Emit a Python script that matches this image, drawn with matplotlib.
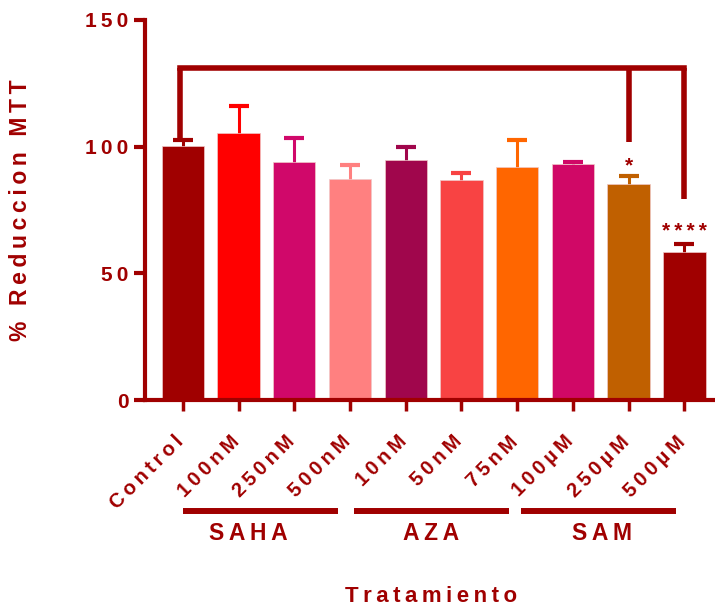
import matplotlib
matplotlib.use('Agg')
import matplotlib.pyplot as plt
import matplotlib.transforms as mtransforms
import numpy as np

# data
categories = ['Control', '100nM', '250nM', '500nM', '10nM', '50nM', '75nM',
              '100µM', '250µM', '500µM']
means = [100.4, 105.3, 94.1, 87.1, 94.7, 86.8, 92.0, 93.0, 85.3, 58.4]
errors = [2.2, 10.7, 9.2, 5.7, 5.3, 2.9, 10.8, 1.0, 3.1, 3.1]
colors = ['#A00000', '#FF0000', '#D0086A', '#FF8080', '#A0064C', '#F84343',
          '#FF6600', '#D00866', '#C06000', '#A00000']
groups = ['SAHA', 'AZA', 'SAM']
group_spans = [(0, 2.78), (3.07, 5.85), (6.07, 8.85)]
group_label_x = [1.17, 4.45, 7.52]
bracket_y = 131
bracket_ends = [(-0.05, 102.6), (8, 102.0), (9, 79.3)]
stars = [(8, 92.5, '*'), (9, 66.5, '****')]

RED = '#A00000'
plt.rcParams['font.family'] = ['Liberation Sans', 'DejaVu Sans']
plt.rcParams['font.weight'] = 'bold'


def spaced(s):
    # the reference uses wide letter spacing
    return '\u2009'.join(s)


fig = plt.figure(figsize=(7.15, 6.07), dpi=100)
ax = fig.add_axes([145 / 715, 1 - 400 / 607, 1 - 145 / 715, 380 / 607])

x = np.arange(len(categories))
for i in x:
    ax.bar(i, means[i], width=0.76, color=colors[i], edgecolor='#F0C8C8',
           linewidth=0.5, zorder=2)
    ax.errorbar(i, means[i], yerr=errors[i], fmt='none',
                ecolor=colors[i], elinewidth=2.2, capsize=7, capthick=3,
                zorder=1)

ax.set_xlim(-0.68, 9.55)
ax.set_ylim(0, 150)
ax.set_yticks([0, 50, 100, 150])
ax.set_yticklabels([spaced(str(v)) for v in [0, 50, 100, 150]],
                   fontsize=15, color=RED, fontweight='bold')
ax.set_xticks(x)
ax.set_xticklabels([])
ax.tick_params(axis='x', length=8, width=2.5, color=RED)
ax.tick_params(axis='y', length=8, width=3, color=RED, pad=4)
for s in ['top', 'right']:
    ax.spines[s].set_visible(False)
for s in ['left', 'bottom']:
    ax.spines[s].set_color(RED)
    ax.spines[s].set_linewidth(3)
ax.spines['bottom'].set_zorder(3)

trans = ax.get_xaxis_transform()

# rotated category labels, placed like the reference
shift = mtransforms.ScaledTranslation(-9 / 100, -32 / 100, fig.dpi_scale_trans)
for i, c in zip(x, categories):
    ax.text(i, 0, spaced(c), transform=trans + shift, rotation=45,
            ha='right', va='top', rotation_mode='anchor', fontsize=14.5,
            color=RED, fontweight='bold')

ax.set_ylabel(spaced('% Reduccion MTT'), fontsize=16.5, color=RED,
              fontweight='bold')
ax.yaxis.set_label_coords(-0.198, 0.5)

# significance bracket
xs = [e[0] for e in bracket_ends]
ax.plot([xs[0], xs[-1]], [bracket_y, bracket_y], color=RED, lw=4,
        solid_capstyle='projecting', clip_on=False)
for xi, yi in bracket_ends:
    ax.plot([xi, xi], [yi, bracket_y], color=RED, lw=4,
            solid_capstyle='butt', clip_on=False)
for xi, yi, s in stars:
    ax.text(xi, yi, spaced(s), ha='center', va='center', fontsize=15,
            color=RED)

# group lines and labels under the x axis
for name, (a, b), lx in zip(groups, group_spans, group_label_x):
    ax.plot([a, b], [-0.293, -0.293], transform=trans, color=RED, lw=4.3,
            clip_on=False, solid_capstyle='butt')
    ax.text(lx, -0.35, spaced(name), transform=trans, ha='center',
            va='center', fontsize=16.5, color=RED, fontweight='bold')

fig.text(431 / 715, 1 - 597 / 607, spaced('Tratamiento'), ha='center',
         va='center', fontsize=16, color=RED, fontweight='bold')

fig.savefig('out.png', dpi=100)
